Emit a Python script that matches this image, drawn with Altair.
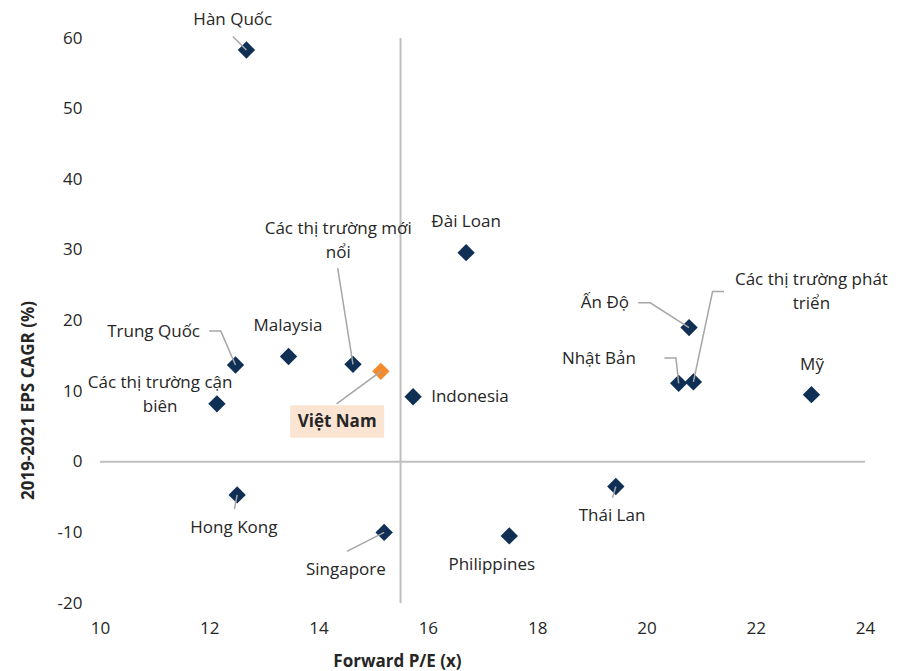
import altair as alt
import pandas as pd

# ---- data ----
markets = ["Hàn Quốc", "Đài Loan", "Các thị trường mới nổi", "Trung Quốc", "Malaysia",
           "Việt Nam", "Các thị trường cận biên", "Indonesia", "Ấn Độ",
           "Các thị trường phát triển", "Nhật Bản", "Mỹ", "Hong Kong", "Singapore",
           "Philippines", "Thái Lan"]
forward_pe = [12.68, 16.70, 14.63, 12.48, 13.45, 15.14, 12.14, 15.73, 20.78,
              20.86, 20.59, 23.02, 12.51, 15.20, 17.49, 19.44]
eps_cagr = [58.3, 29.6, 13.8, 13.7, 14.9, 12.8, 8.2, 9.2, 19.0,
            11.3, 11.1, 9.5, -4.7, -10.0, -10.5, -3.5]

# label text (line breaks as in the picture)
label_text = ["Hàn Quốc", "Đài Loan", "Các thị trường mới\nnổi", "Trung Quốc", "Malaysia",
              "Việt Nam", "Các thị trường cận\nbiên", "Indonesia", "Ấn Độ",
              "Các thị trường phát\ntriển", "Nhật Bản", "Mỹ", "Hong Kong", "Singapore",
              "Philippines", "Thái Lan"]
# annotation placement (data units; first line for wrapped labels)
label_x = [12.43, 16.70, 14.36, 11.83, 13.44, 14.34, 11.10, 16.06, 19.68,
           23.02, 19.13, 23.03, 12.45, 14.50, 17.17, 19.37]
label_y = [62.5, 33.9, 32.9, 18.4, 19.2, 5.6, 11.1, 9.2, 22.5,
           25.7, 14.6, 13.7, -9.4, -15.3, -14.6, -7.7]
label_align = ["center", "center", "center", "right", "center", "center", "center", "left",
               "right", "center", "center", "center", "center", "center", "center", "center"]

# leader-line waypoints per market (point itself is appended)
leader_pts = {
    "Hàn Quốc": [(12.43, 60.2)],
    "Các thị trường mới nổi": [(14.35, 27.4)],
    "Trung Quốc": [(12.00, 18.5), (12.21, 18.5)],
    "Việt Nam": [(14.33, 8.2)],
    "Ấn Độ": [(19.85, 22.5), (20.07, 22.5)],
    "Các thị trường phát triển": [(21.42, 24.1), (21.21, 24.1)],
    "Nhật Bản": [(20.33, 14.7), (20.54, 14.7)],
    "Hong Kong": [(12.46, -6.7)],
    "Singapore": [(14.52, -12.7)],
    "Thái Lan": [(19.38, -5.1)],
}

# Việt Nam highlight box (data units)
box_x = [13.48, 15.20]
box_y = [8.0, 3.4]

divider_pe = 15.5

FONT = "Open Sans"
FS = 17
NAVY = "#0f2f55"
ORANGE = "#f58a2c"
TXT = "#262626"

pts = pd.DataFrame({"market": markets, "pe": forward_pe, "eps": eps_cagr,
                    "hl": [m == "Việt Nam" for m in markets]})
labels = pd.DataFrame({"market": markets, "text": label_text, "lx": label_x,
                       "ly": label_y, "align": label_align})

rows = []
for m, wps in leader_pts.items():
    i = markets.index(m)
    seq = list(wps) + [(forward_pe[i], eps_cagr[i])]
    for k, (a, b) in enumerate(seq):
        rows.append({"market": m, "o": k, "x": a, "y": b})
leaders = pd.DataFrame(rows)

xs = alt.Scale(domain=[10, 24], nice=False, zero=False)
ys = alt.Scale(domain=[-20, 60], nice=False, zero=False)

xaxis = alt.Axis(values=list(range(10, 25, 2)), grid=False, domain=False, ticks=False,
                 labelExpr="'' + datum.value", labelFlush=False,
                 labelPadding=17, labelFontSize=FS, labelFont=FONT, labelColor=TXT,
                 title="Forward P/E (x)", titleFont=FONT, titleFontSize=FS, titleFontWeight="bold",
                 titleColor=TXT, titleX=297, titleY=58, titleAnchor="middle", titleBaseline="middle")
yaxis = alt.Axis(values=list(range(-20, 61, 10)), grid=False, domain=False, ticks=False,
                 labelExpr="'' + datum.value", labelFlush=False,
                 labelPadding=18, labelFontSize=FS, labelFont=FONT, labelColor=TXT,
                 title="2019-2021 EPS CAGR (%)", titleFont=FONT, titleFontSize=FS,
                 titleFontWeight="bold", titleColor=TXT, titleX=-72, titleY=362,
                 titleAngle=270, titleAnchor="middle", titleBaseline="middle")

vline = alt.Chart(pd.DataFrame({"x": [divider_pe]})).mark_rule(color="#bfbfbf", strokeWidth=2).encode(
    x=alt.X("x:Q", scale=xs, axis=xaxis))
hline = alt.Chart(pd.DataFrame({"y": [0]})).mark_rule(color="#bfbfbf", strokeWidth=2).encode(
    y=alt.Y("y:Q", scale=ys, axis=yaxis))

points = alt.Chart(pts).mark_point(shape="diamond", filled=True, size=300, opacity=1).encode(
    x=alt.X("pe:Q", scale=xs),
    y=alt.Y("eps:Q", scale=ys),
    color=alt.condition("datum.hl", alt.value(ORANGE), alt.value(NAVY)),
)

lead = alt.Chart(leaders).mark_line(color="#a6a6a6", strokeWidth=1.5).encode(
    x=alt.X("x:Q", scale=xs), y=alt.Y("y:Q", scale=ys),
    detail="market:N", order="o:Q")

box = alt.Chart(pd.DataFrame({"x1": [box_x[0]], "x2": [box_x[1]],
                              "y1": [box_y[0]], "y2": [box_y[1]]})).mark_rect(color="#fce4d3").encode(
    x=alt.X("x1:Q", scale=xs), x2="x2:Q", y=alt.Y("y1:Q", scale=ys), y2="y2:Q")

text_layers = []
for al in ["left", "center", "right"]:
    t = alt.Chart(labels).transform_filter(
        f"datum.align == '{al}' && datum.market != 'Việt Nam'"
    ).mark_text(align=al, baseline="middle", font=FONT, fontSize=FS, color=TXT,
                lineBreak="\n", lineHeight=24).encode(
        x=alt.X("lx:Q", scale=xs), y=alt.Y("ly:Q", scale=ys), text="text:N")
    text_layers.append(t)

vn_text = alt.Chart(labels).transform_filter("datum.market == 'Việt Nam'").mark_text(
    align="center", baseline="middle", font=FONT, fontSize=FS, fontWeight="bold", color=TXT).encode(
    x=alt.X("lx:Q", scale=xs), y=alt.Y("ly:Q", scale=ys), text="text:N")

chart = alt.layer(vline, hline, box, points, lead, *text_layers, vn_text).properties(
    width=765, height=565,
    autosize=alt.AutoSizeParams(type="none"),
    padding={"left": 92, "top": 30, "right": 33, "bottom": 68},
    background="white",
).configure_view(strokeWidth=0, stroke="transparent")

chart.save("out.html", embed_options={"renderer": "svg", "actions": False})
